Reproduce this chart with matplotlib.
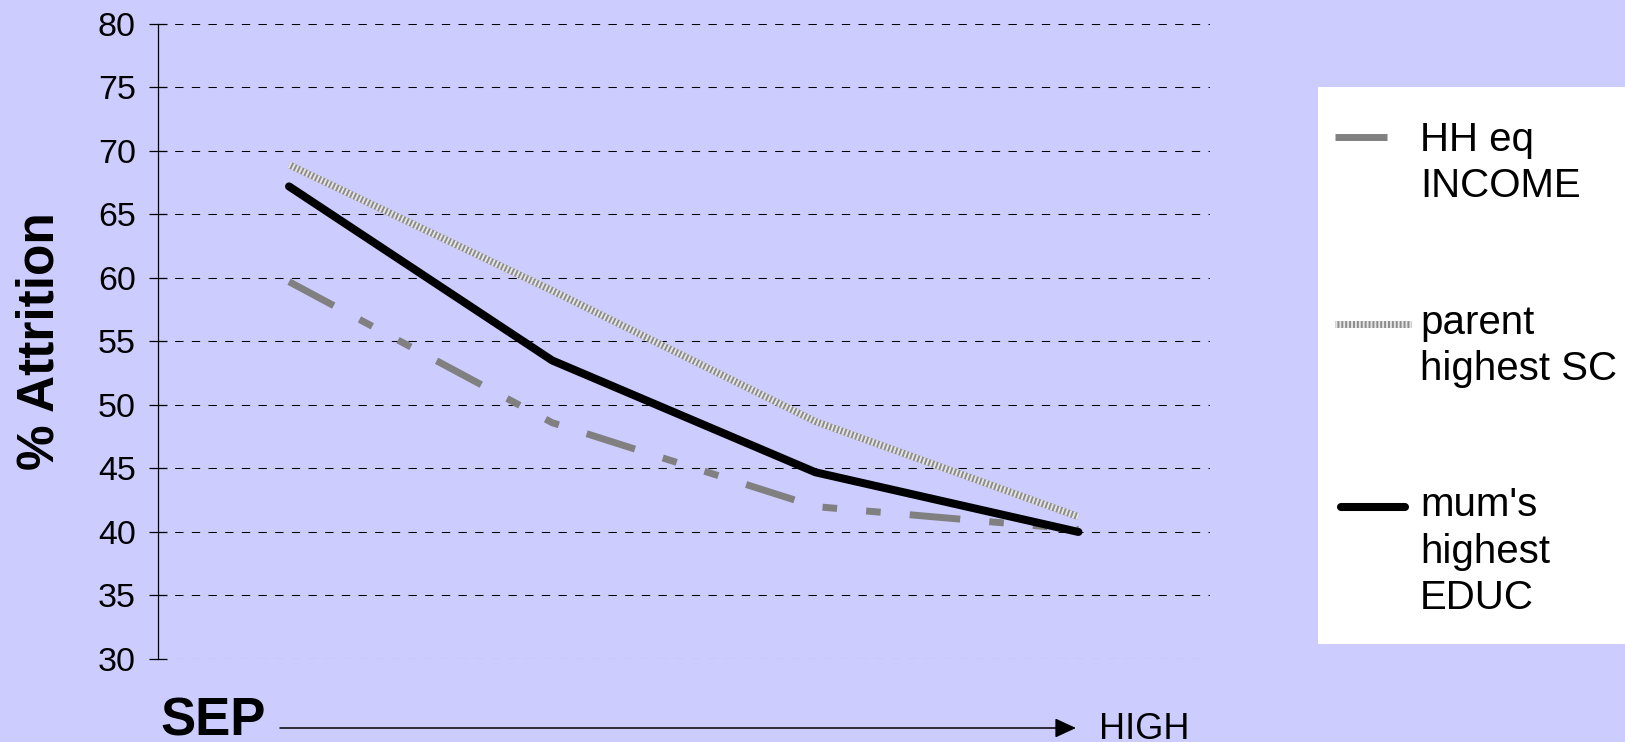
import matplotlib
matplotlib.use("Agg")
import matplotlib.pyplot as plt
from matplotlib.lines import Line2D
from matplotlib.patches import Rectangle, FancyArrowPatch

# -------------------------
# Data
# -------------------------

sep_groups = ["1", "2", "3", "4"]
hh_income = [59.7, 48.6, 42.0, 40.2]
parent_sc = [68.9, 59.0, 48.7, 41.2]
mum_educ = [67.2, 53.5, 44.7, 40.0]

series_labels = ["HH eq\nINCOME", "parent\nhighest SC", "mum's\nhighest\nEDUC"]
y_ticks = [30, 35, 40, 45, 50, 55, 60, 65, 70, 75, 80]

# -------------------------
# Style
# -------------------------

plt.rcParams["font.family"] = ["Liberation Sans", "DejaVu Sans"]
bg = "#CCCCFF"
W, H = 1625, 742

fig = plt.figure(figsize=(W / 100, H / 100), dpi=100, facecolor=bg)
ax = fig.add_axes([157.5 / W, 1 - 659 / H, (1210 - 157.5) / W, (659 - 23.8) / H])
ax.set_facecolor(bg)

x = list(range(len(sep_groups)))

# HH eq INCOME: grey long-short-short dashes
hh_dash = (0, (7.3, 4.2, 2.1, 4.2, 2.1, 4.2))
ax.plot(x, hh_income, color="#808080", lw=5, linestyle=hh_dash,
        dash_capstyle="butt", zorder=3)

# parent highest SC: textured light grey
ax.plot(x, parent_sc, color="#8c8c8c", lw=5, solid_capstyle="butt", zorder=3)
ax.plot(x, parent_sc, color="#e6e6e6", lw=5, linestyle=(0, (0.28, 0.28)),
        dash_capstyle="butt", zorder=3)

# mum's highest EDUC: thick black
ax.plot(x, mum_educ, color="black", lw=5.8, solid_capstyle="round",
        solid_joinstyle="round", zorder=4)

ax.set_xlim(-0.5, len(sep_groups) - 0.5)
ax.set_ylim(30, 80)
ax.set_yticks(y_ticks)
ax.set_xticks([])
ax.yaxis.grid(True, color="black", lw=0.75, linestyle=(0, (8, 8)))
ax.set_axisbelow(True)

for s in ["top", "right", "bottom"]:
    ax.spines[s].set_visible(False)
ax.spines["left"].set_linewidth(0.9)
ax.tick_params(axis="y", direction="inout", length=13, width=0.9,
               labelsize=24.5, pad=9)

ax.set_ylabel("% Attrition", fontsize=37, fontweight="bold", va="center")
ax.yaxis.set_label_coords(-0.112, 0.5)

# -------------------------
# SEP arrow along the bottom
# -------------------------

fig.text(160 / W, 1 - 735 / H, "SEP", fontsize=38, fontweight="bold",
         ha="left", va="baseline")
fig.text(1099 / W, 1 - 739 / H, "HIGH", fontsize=26, ha="left", va="baseline")
arrow = FancyArrowPatch((280 / W, 1 - 728 / H), (1076 / W, 1 - 728 / H),
                        transform=fig.transFigure,
                        arrowstyle="-|>,head_length=13,head_width=6",
                        mutation_scale=1, lw=1.1, color="black",
                        shrinkA=0, shrinkB=0)
fig.patches.append(arrow)

# -------------------------
# Legend box (drawn by hand)
# -------------------------

fig.patches.append(Rectangle((1318 / W, 1 - 644 / H), (W - 1318) / W,
                             (644 - 86.5) / H, transform=fig.transFigure,
                             facecolor="white", edgecolor="none"))

handle_y = [137, 324, 507]
last_base = [197, 380, 609]

fig.lines.append(Line2D([1335 / W, 1387 / W], [1 - handle_y[0] / H] * 2,
                        transform=fig.transFigure, color="#808080", lw=5,
                        solid_capstyle="butt"))
fig.lines.append(Line2D([1335 / W, 1411 / W], [1 - handle_y[1] / H] * 2,
                        transform=fig.transFigure, color="#8c8c8c", lw=5,
                        solid_capstyle="butt"))
fig.lines.append(Line2D([1335 / W, 1411 / W], [1 - handle_y[1] / H] * 2,
                        transform=fig.transFigure, color="#e6e6e6", lw=5,
                        linestyle=(0, (0.28, 0.28)), dash_capstyle="butt"))
fig.lines.append(Line2D([1341 / W, 1405 / W], [1 - handle_y[2] / H] * 2,
                        transform=fig.transFigure, color="black", lw=5.8,
                        solid_capstyle="round"))

for label, yb in zip(series_labels, last_base):
    fig.text(1420 / W, 1 - yb / H, label, fontsize=29, ha="left",
             va="baseline", linespacing=1.28)

fig.savefig("out.png", dpi=100, facecolor=bg)
